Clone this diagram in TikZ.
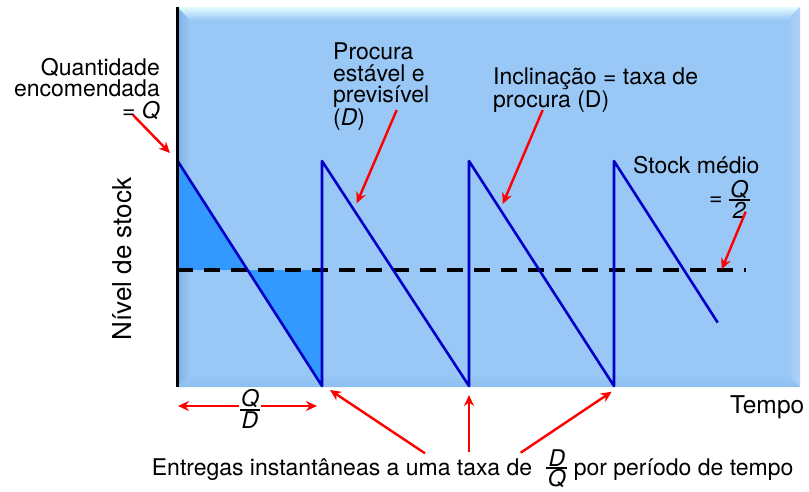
\documentclass[tikz,border=0pt]{standalone}
\usepackage{fontspec}
\setmainfont{TeX Gyre Heros}
\usetikzlibrary{arrows.meta}
\definecolor{plotbg}{RGB}{153,200,246}
\definecolor{bevtop}{RGB}{228,252,255}
\definecolor{bevleft}{RGB}{125,175,228}
\definecolor{bevbot}{RGB}{140,190,240}
\definecolor{stockfill}{RGB}{51,153,255}
\definecolor{sawblue}{RGB}{0,0,200}
% stacked fraction in the text font
\newcommand{\ratio}[2]{$\vcenter{\offinterlineskip\halign{\hfil\kern1.5pt##\kern1.5pt\hfil\cr
	\textit{#1}\cr\noalign{\kern1pt\hrule height 1.6pt\kern1pt}\textit{#2}\cr}}$}
\begin{document}
\begin{tikzpicture}[x=1pt, y=-1pt,
	lbl/.style={font=\fontsize{23}{21.5}\selectfont, inner sep=0pt},
	axislbl/.style={font=\fontsize{26}{26}\selectfont, inner sep=0pt},
	redarrow/.style={red, line width=2.4pt, -{Stealth[length=11pt, width=10pt]}},
	saw/.style={sawblue, line width=2.6pt, line join=round}]
	\useasboundingbox (0,0) rectangle (809,491);

%panel
	\fill[plotbg] (177,7) rectangle (800,387);
	\shade[top color=bevtop, bottom color=plotbg] (177,7) -- (800,7) -- (787,20) -- (190,20) -- cycle;
	\shade[left color=bevleft, right color=plotbg] (177,7) -- (190,20) -- (190,374) -- (177,387) -- cycle;
	\shade[top color=plotbg, bottom color=bevbot] (177,387) -- (190,374) -- (787,374) -- (800,387) -- cycle;
	\shade[left color=plotbg, right color=bevbot!70!white] (800,7) -- (787,20) -- (787,374) -- (800,387) -- cycle;

%points of the stock curve
	\coordinate (q0) at (177,160);
	\coordinate (cut) at (247.6,270);
	\coordinate (d1) at (322,386);
	\coordinate (q1) at (322,161);
	\coordinate (d2) at (469,386);
	\coordinate (q2) at (469,161);
	\coordinate (d3) at (614,386);
	\coordinate (q3) at (614,161);
	\coordinate (last) at (717.7,322.6);

%shaded areas
	\fill[stockfill] (q0) -- (177,270) -- (cut) -- cycle;
	\fill[stockfill] (cut) -- (322,270) -- (d1) -- cycle;

%average line
	\coordinate (avg0) at (177,270);
	\coordinate (avg1) at (746,270);
	\draw[black, line width=4pt, dash pattern=on 16pt off 11pt] (avg0) -- (avg1);

%sawtooth
	\draw[saw] (q0) -- (d1) -- (q1) -- (d2) -- (q2) -- (d3) -- (q3) -- (last);

%axis
	\draw[black, line width=3pt] (177,7) -- (177,387);

%labels
	\node[lbl, align=right, anchor=north east] (orderq) at (160,58)
		{Quantidade\\encomendada\\= \textit{Q}};
	\node[lbl, align=left, anchor=north west] (steady) at (333,43)
		{Procura\\estável e\\previsível\\(\textit{D})};
	\node[lbl, align=left, anchor=north west] (slope) at (493,67.5)
		{Inclinação = taxa de\\procura (D)};
	\node[lbl, anchor=north west] (avgtxt) at (633,156) {Stock médio};
	\node[lbl] (half) at (729.5,199) {= \ratio{Q}{2}};
	\node[axislbl, rotate=90] (ylab) at (122,259) {Nível de stock};
	\node[axislbl, font=\fontsize{24.5}{25}\selectfont, anchor=base west] (xlab) at (730,413) {Tempo};
	\node[lbl] (cycle) at (250,409) {\ratio{Q}{D}};
	\node[lbl, anchor=base west] (deliv) at (151.7,475)
		{Entregas instantâneas a uma taxa de \hspace{8pt}\ratio{D}{Q} por período de tempo};

%arrow ends
	\coordinate (a0) at (133,115);
	\coordinate (a1) at (170,153);
	\coordinate (b0) at (396.7,110);
	\coordinate (b1) at (356.7,203.3);
	\coordinate (c0) at (542.7,110);
	\coordinate (c1) at (502.7,204);
	\coordinate (e0) at (745.7,211.7);
	\coordinate (e1) at (721.7,269.3);
	\coordinate (t0) at (178,406);
	\coordinate (t1) at (317,406);

%red arrows
	\draw[redarrow] (a0) -- (a1);
	\draw[redarrow] (b0) -- (b1);
	\draw[redarrow] (c0) -- (c1);
	\draw[redarrow] (e0) -- (e1);
	\draw[redarrow] (cycle.west |- t0) -- (t0);
	\draw[redarrow] (cycle.east |- t1) -- (t1);
	\foreach \from/\to in {{(425,453.3)/(330,390)},{(469,451.7)/(469,395)},{(520.7,452.7)/(611.7,391.7)}}{
		\draw[redarrow] \from -- \to;
	}
\end{tikzpicture}
\end{document}
